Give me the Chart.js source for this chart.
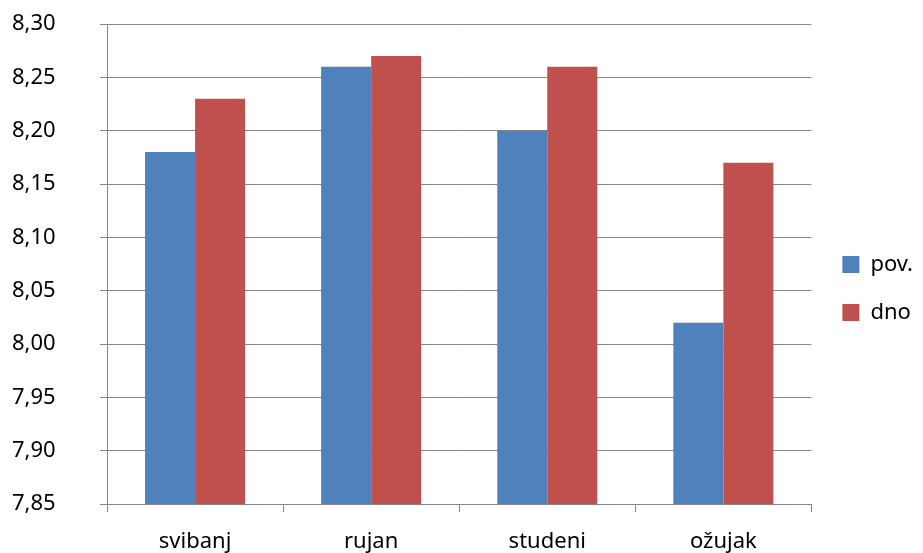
<!DOCTYPE html>
<html>
<head>
<meta charset="utf-8">
<script src="https://cdn.jsdelivr.net/npm/chart.js@4/dist/chart.umd.min.js"></script>
<style>
  html, body { margin: 0; padding: 0; background: #fff; }
  #wrap { width: 923px; height: 553px; position: relative; }
</style>
</head>
<body>
<div id="wrap"><canvas id="chart"></canvas></div>
<script>
// --- DATA ---
const months = ['svibanj', 'rujan', 'studeni', 'ožujak'];
const povValues = [8.18, 8.26, 8.20, 8.02];
const dnoValues = [8.23, 8.27, 8.26, 8.17];
const yMin = 7.85;
const yMax = 8.30;
const yStep = 0.05;

const GRID = '#868686';
const FONT = { family: '"Noto Sans", sans-serif', size: 22 };

Chart.defaults.font.family = FONT.family;
Chart.defaults.color = '#000';

const ctx = document.getElementById('chart').getContext('2d');
new Chart(ctx, {
    type: 'bar',
    data: {
        labels: months,
        datasets: [
            { label: 'pov.', data: povValues, backgroundColor: '#4F81BD', borderWidth: 0 },
            { label: 'dno', data: dnoValues, backgroundColor: '#C0504D', borderWidth: 0 }
        ]
    },
    options: {
        responsive: true, maintainAspectRatio: false,
        animation: false,
        datasets: { bar: { categoryPercentage: 0.568, barPercentage: 1.0 } },
        layout: { padding: { top: 24, right: 0, bottom: 0, left: 12 } },
        plugins: {
            tooltip: { enabled: false },
            legend: {
                position: 'right',
                labels: {
                    boxWidth: 17, boxHeight: 17,
                    padding: 26,
                    color: '#000',
                    font: FONT
                }
            }
        },
        scales: {
            x: {
                grid: { drawOnChartArea: false, offset: true, tickLength: 8, color: GRID, lineWidth: 1 },
                border: { color: GRID, width: 1 },
                ticks: { font: FONT, color: '#000', padding: 17 },
                afterFit: (s) => { s.height = 49; }
            },
            y: {
                min: yMin, max: yMax,
                grid: { color: GRID, lineWidth: 1, tickLength: 7 },
                border: { color: GRID, width: 1 },
                ticks: {
                    stepSize: yStep,
                    font: FONT, color: '#000', padding: 4,
                    crossAlign: 'far',
                    callback: (v) => Number(v).toFixed(2).replace('.', ',')
                },
                afterFit: (s) => { s.width = 95; }
            },
            // empty spacer between plot and legend
            gap: {
                position: 'right',
                grid: { display: false },
                border: { display: false },
                ticks: { display: false },
                afterFit: (s) => { s.width = 5; }
            }
        }
    }
});
</script>
</body>
</html>
